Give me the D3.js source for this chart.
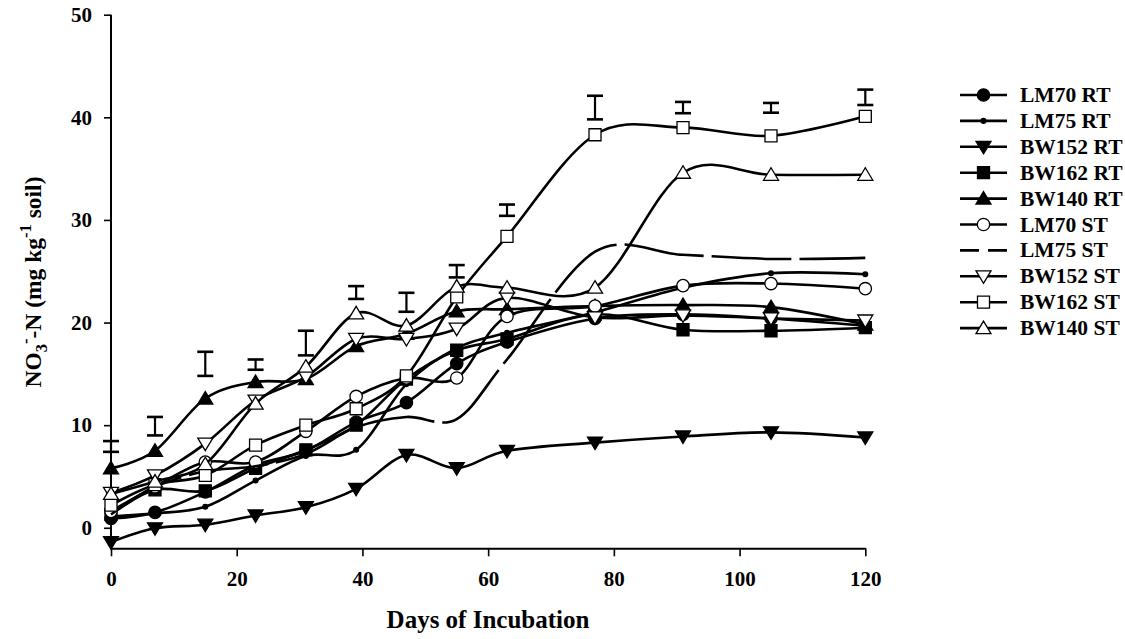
<!DOCTYPE html>
<html>
<head>
<meta charset="utf-8">
<script src="https://cdn.jsdelivr.net/npm/d3@7"></script>
<style>
  html, body { margin: 0; padding: 0; background: #fff; }
  svg { display: block; font-family: "Liberation Serif", "Times New Roman", serif; font-weight: bold; }
</style>
</head>
<body>
<svg id="chart" width="1125" height="639"></svg>
<script>
// Sampling days
const days = [0, 7, 15, 23, 31, 39, 47, 55, 63, 77, 91, 105, 120];

// NO3--N (mg kg-1 soil) per treatment
const lm70RT  = [0.9, 1.5, 3.5, 6.1, 7.5, 10.3, 12.2, 16.0, 18.1, 20.4, 20.8, 20.4, 19.7];
const lm75RT  = [1.1, 1.4, 2.05, 4.6, 7.0, 7.6, 14.0, 17.5, 19.0, 21.0, 23.4, 24.8, 24.7];
const bw152RT = [-1.4, -0.05, 0.3, 1.2, 2.0, 3.8, 7.1, 5.8, 7.5, 8.3, 8.9, 9.3, 8.8];
const bw162RT = [1.3, 3.7, 3.6, 5.8, 7.6, 10.0, 14.5, 17.3, 18.4, 20.8, 19.3, 19.2, 19.5];
const bw140RT = [5.8, 7.5, 12.6, 14.2, 14.5, 17.7, 18.9, 21.1, 21.3, 21.6, 21.7, 21.5, 19.8];
const lm70ST  = [1.6, 4.0, 6.4, 6.4, 9.4, 12.8, 14.6, 14.6, 20.6, 21.6, 23.6, 23.8, 23.3];
const lm75ST  = [1.3, 4.0, 5.5, 6.0, 7.2, 9.8, 10.8, 10.6, 16.4, 26.9, 26.6, 26.2, 26.3];
const bw152ST = [3.4, 5.1, 8.2, 12.4, 14.7, 18.4, 18.4, 19.4, 22.4, 20.5, 20.7, 20.4, 20.2];
const bw162ST = [2.2, 4.2, 5.1, 8.06, 10.0, 11.6, 14.8, 22.5, 28.4, 38.3, 39.0, 38.2, 40.1];
const bw140ST = [3.3, 4.5, 6.2, 12.1, 15.7, 20.9, 19.7, 23.5, 23.4, 23.4, 34.6, 34.4, 34.4];

// LSD-style bars drawn above the curves
const errLow  = [7.4, 9.0, 14.8, 15.4, 16.8, 22.3, 21.05, 24.4, 30.4, 39.8, 40.4, 40.45, 41.2];
const errHigh = [8.45, 10.8, 17.15, 16.4, 19.2, 23.55, 22.9, 25.6, 31.5, 42.1, 41.5, 41.4, 42.7];

const seriesNames = ["LM70 RT", "LM75 RT", "BW152 RT", "BW162 RT", "BW140 RT",
                     "LM70 ST", "LM75 ST", "BW152 ST", "BW162 ST", "BW140 ST"];
const seriesValues = [lm70RT, lm75RT, bw152RT, bw162RT, bw140RT,
                      lm70ST, lm75ST, bw152ST, bw162ST, bw140ST];
const seriesMarkers = ["circle", "dot", "triDown", "square", "triUp",
                       "circle", "none", "triDown", "square", "triUp"];
const seriesFilled = [true, true, true, true, true, false, false, false, false, false];
const seriesDashed = [false, false, false, false, false, false, true, false, false, false];

const xTicks = [0, 20, 40, 60, 80, 100, 120];
const yTicks = [0, 10, 20, 30, 40, 50];

const svg = d3.select("#chart");

const x = d3.scaleLinear().domain([0, 120]).range([111, 865.3]);
const y = d3.scaleLinear().domain([-2, 50]).range([548.3, 14.7]);

// Axes
const xAxis = d3.axisBottom(x).tickValues(xTicks).tickSize(8).tickPadding(15).tickSizeOuter(0);
const yAxis = d3.axisLeft(y).tickValues(yTicks).tickSize(7).tickPadding(12).tickSizeOuter(0);

const gx = svg.append("g").attr("transform", `translate(0,${y(-2)})`).call(xAxis);
const gy = svg.append("g").attr("transform", `translate(${x(0)},0)`).call(yAxis);
[gx, gy].forEach(g => {
  g.selectAll("path.domain").attr("stroke", "#000").attr("stroke-width", 2);
  g.selectAll(".tick line").attr("stroke", "#000").attr("stroke-width", 1.6);
  g.selectAll(".tick text")
    .attr("fill", "#000")
    .style("font-family", '"Liberation Serif", "Times New Roman", serif')
    .style("font-weight", "bold")
    .style("font-size", "21px");
});
gy.select("path.domain").attr("d", `M0,${y(-2)}V${y(50)}`);

// Axis titles
svg.append("text")
  .attr("x", 488).attr("y", 628)
  .attr("text-anchor", "middle")
  .style("font-size", "25px")
  .text("Days of Incubation");

const yTitle = svg.append("text")
  .attr("transform", `translate(41,282) rotate(-90)`)
  .attr("text-anchor", "middle")
  .style("font-size", "23.5px");
yTitle.append("tspan").text("NO");
yTitle.append("tspan").attr("dy", 6).style("font-size", "16.5px").text("3");
yTitle.append("tspan").attr("dy", -16).style("font-size", "16.5px").text("-");
yTitle.append("tspan").attr("dy", 10).text("-N (mg kg");
yTitle.append("tspan").attr("dy", -10).style("font-size", "16.5px").text("-1");
yTitle.append("tspan").attr("dy", 10).text(" soil)");

// Marker symbol paths centred on 0,0
function markerPath(kind) {
  switch (kind) {
    case "circle": return d3.symbol(d3.symbolCircle, 120)();
    case "dot": return d3.symbol(d3.symbolCircle, 18)();
    case "square": return "M-6,-6H6V6H-6Z";
    case "triUp": return "M0,-7L7.5,5.5H-7.5Z";
    case "triDown": return "M0,7L7.5,-5.5H-7.5Z";
    default: return null;
  }
}

const line = d3.line()
  .x((d, i) => x(days[i]))
  .y(d => y(d))
  .curve(d3.curveCardinal.tension(0));

const plot = svg.append("g");

seriesValues.forEach((vals, s) => {
  const g = plot.append("g");
  g.append("path")
    .datum(vals)
    .attr("d", line)
    .attr("fill", "none")
    .attr("stroke", "#000")
    .attr("stroke-width", 2.6)
    .attr("stroke-dasharray", seriesDashed[s] ? "80,8" : null);
  const p = markerPath(seriesMarkers[s]);
  if (p) {
    g.selectAll("path.mk")
      .data(vals)
      .join("path")
      .attr("class", "mk")
      .attr("d", p)
      .attr("transform", (d, i) => `translate(${x(days[i])},${y(d)})`)
      .attr("fill", seriesFilled[s] ? "#000" : "#fff")
      .attr("stroke", "#000")
      .attr("stroke-width", 1.3);
  }
});

// Error bars
const eb = svg.append("g").attr("stroke", "#000");
days.forEach((d, i) => {
  const cx = x(d);
  eb.append("line").attr("x1", cx).attr("x2", cx)
    .attr("y1", y(errLow[i])).attr("y2", y(errHigh[i])).attr("stroke-width", 2.2);
  [errLow[i], errHigh[i]].forEach(v => {
    eb.append("line").attr("x1", cx - 8).attr("x2", cx + 8)
      .attr("y1", y(v)).attr("y2", y(v)).attr("stroke-width", 2.6);
  });
});

// Legend
const legend = svg.append("g");
seriesNames.forEach((name, s) => {
  const ly = 95 + s * 25.9;
  const g = legend.append("g");
  g.append("line").attr("x1", 960).attr("x2", 1007).attr("y1", ly).attr("y2", ly)
    .attr("stroke", "#000").attr("stroke-width", 2.6)
    .attr("stroke-dasharray", seriesDashed[s] ? "19,9" : null);
  const p = markerPath(seriesMarkers[s]);
  if (p) {
    g.append("path").attr("d", p)
      .attr("transform", `translate(983.5,${ly})`)
      .attr("fill", seriesFilled[s] ? "#000" : "#fff")
      .attr("stroke", "#000").attr("stroke-width", 1.3);
  }
  g.append("text").attr("x", 1020).attr("y", ly + 7)
    .style("font-size", "21.5px")
    .text(name);
});
</script>
</body>
</html>
